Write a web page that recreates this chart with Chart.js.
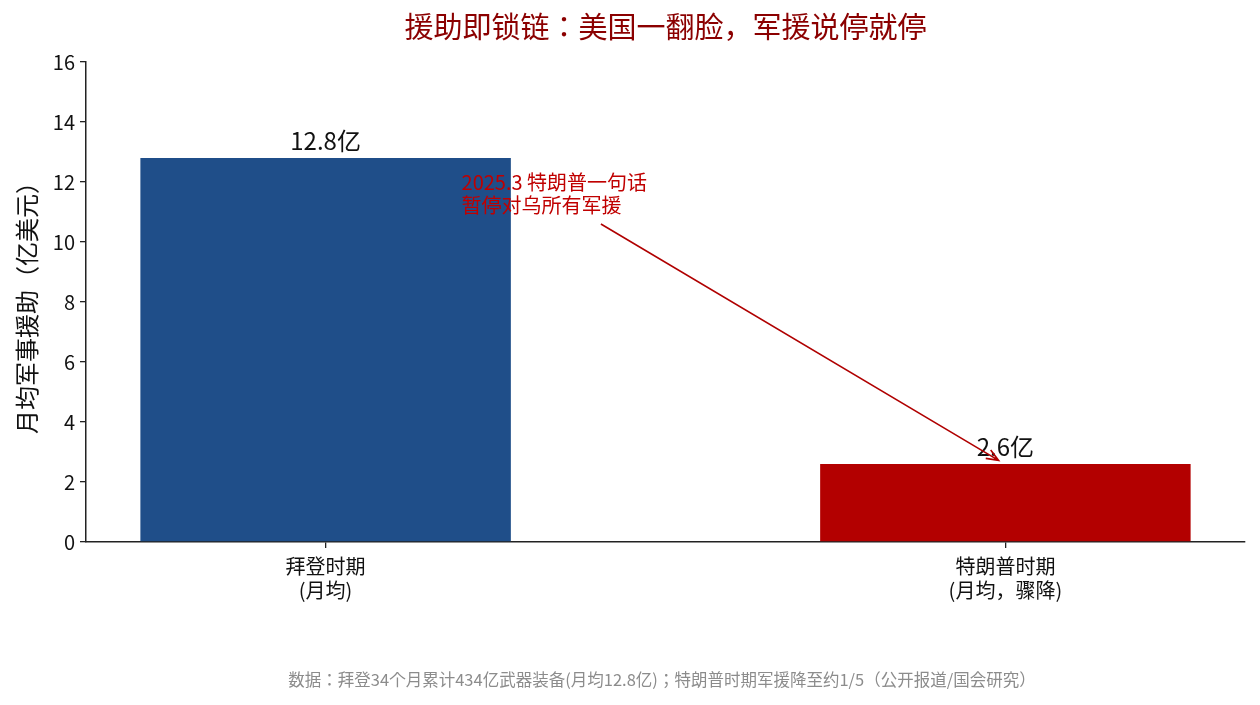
<!DOCTYPE html>
<html>
<head>
<meta charset="utf-8">
<script src="https://cdn.jsdelivr.net/npm/chart.js@4"></script>
<style>
  html, body { margin: 0; padding: 0; background: #ffffff; }
  #wrap { width: 1260px; height: 705px; }
</style>
</head>
<body>
<div id="wrap"><canvas id="c" width="1260" height="705"></canvas></div>
<script>
// ---- data ----
const categories = [['拜登时期', '(月均)'], ['特朗普时期', '(月均，骤降)']];
const categoryPositions = [0, 1];
const values = [12.8, 2.6];
const valueLabels = ['12.8亿', '2.6亿'];
const barColors = ['#1F4E89', '#B30000'];
const yTickValues = [0, 2, 4, 6, 8, 10, 12, 14, 16];
const titleText = '援助即锁链：美国一翻脸，军援说停就停';
const yAxisTitle = '月均军事援助（亿美元）';
const footerText = '数据：拜登34个月累计434亿武器装备(月均12.8亿)；特朗普时期军援降至约1/5（公开报道/国会研究）';
const annotationLines = ['2025.3 特朗普一句话', '暂停对乌所有军援'];
const annotationTextAt = [0.2, 12.0];   // data coords (x, y of first line centre)
const arrowFrom = [0.405, 10.6];        // data coords
const arrowTo = [0.99, 2.72];           // data coords

const FONT = '"Noto Sans CJK JP", "Noto Sans CJK SC", "Noto Sans", sans-serif';

const overlayPlugin = {
  id: 'overlay',
  afterDatasetsDraw(chart) {
    const ctx = chart.ctx;
    const xs = chart.scales.x, ys = chart.scales.y;
    const ca = chart.chartArea;
    const meta = chart.getDatasetMeta(0);
    ctx.save();
    // title (centred over the plot area)
    ctx.font = '29px ' + FONT;
    ctx.fillStyle = '#8B0000';
    ctx.textAlign = 'center';
    ctx.textBaseline = 'middle';
    ctx.fillText(titleText, (ca.left + ca.right) / 2, 27);
    // footer
    ctx.font = '16.5px ' + FONT;
    ctx.fillStyle = '#8C8C8C';
    ctx.fillText(footerText, 662, 680);
    // value labels
    ctx.font = '24px ' + FONT;
    ctx.fillStyle = '#111111';
    ctx.textAlign = 'center';
    ctx.textBaseline = 'alphabetic';
    meta.data.forEach((bar, i) => {
      ctx.fillText(valueLabels[i], bar.x, bar.y - 8);
    });
    // annotation arrow
    const x1 = xs.getPixelForValue(arrowFrom[0]), y1 = ys.getPixelForValue(arrowFrom[1]);
    const x2 = xs.getPixelForValue(arrowTo[0]), y2 = ys.getPixelForValue(arrowTo[1]);
    ctx.strokeStyle = '#B00000';
    ctx.lineWidth = 1.6;
    ctx.beginPath();
    ctx.moveTo(x1, y1);
    ctx.lineTo(x2, y2);
    const ang = Math.atan2(y2 - y1, x2 - x1);
    const hl = 13, ha = 0.38;
    ctx.moveTo(x2 - hl * Math.cos(ang - ha), y2 - hl * Math.sin(ang - ha));
    ctx.lineTo(x2, y2);
    ctx.lineTo(x2 - hl * Math.cos(ang + ha), y2 - hl * Math.sin(ang + ha));
    ctx.stroke();
    // annotation text
    ctx.font = '20px ' + FONT;
    ctx.fillStyle = '#C00000';
    ctx.textAlign = 'left';
    ctx.textBaseline = 'middle';
    const tx = xs.getPixelForValue(annotationTextAt[0]);
    const ty = ys.getPixelForValue(annotationTextAt[1]);
    annotationLines.forEach((line, i) => ctx.fillText(line, tx, ty + i * 23));
    ctx.restore();
  }
};

new Chart(document.getElementById('c'), {
  type: 'bar',
  data: {
    datasets: [{
      data: categoryPositions.map((x, i) => ({ x: x, y: values[i] })),
      backgroundColor: barColors,
      borderWidth: 0,
      categoryPercentage: 1,
      barPercentage: 0.545
    }]
  },
  options: {
    responsive: false,
    animation: false,
    devicePixelRatio: 1,
    layout: { padding: { left: 0, right: 15, top: 62, bottom: 0 } },
    plugins: {
      legend: { display: false },
      tooltip: { enabled: false },
      title: { display: false },
      subtitle: { display: false }
    },
    scales: {
      x: {
        type: 'linear',
        offset: false,
        min: -0.3525,
        max: 1.3525,
        afterBuildTicks: (s) => { s.ticks = categoryPositions.map(v => ({ value: v })); },
        afterFit: (s) => { s.height = 705 - 542; },
        grid: { display: true, drawOnChartArea: false, offset: false, tickLength: 6, color: '#222222', lineWidth: 1.3 },
        border: { display: true, color: '#222222', width: 1.5 },
        ticks: {
          autoSkip: false,
          maxRotation: 0,
          padding: 6,
          color: '#111111',
          font: { family: FONT, size: 20, lineHeight: 1.2 },
          callback: (v) => { const i = categoryPositions.indexOf(v); return i >= 0 ? categories[i] : ''; }
        }
      },
      y: {
        min: 0,
        max: 16,
        afterBuildTicks: (s) => { s.ticks = yTickValues.map(v => ({ value: v })); },
        afterFit: (s) => { s.width = 86; },
        grid: { display: true, drawOnChartArea: false, tickLength: 6, color: '#222222', lineWidth: 1.3 },
        border: { display: true, color: '#222222', width: 1.5 },
        ticks: {
          padding: 5,
          color: '#111111',
          font: { family: FONT, size: 20 }
        },
        title: {
          display: true,
          text: yAxisTitle,
          color: '#111111',
          font: { family: FONT, size: 24, lineHeight: 1.2 },
          padding: { top: 12, bottom: 0 }
        }
      }
    }
  },
  plugins: [overlayPlugin]
});
</script>
</body>
</html>
